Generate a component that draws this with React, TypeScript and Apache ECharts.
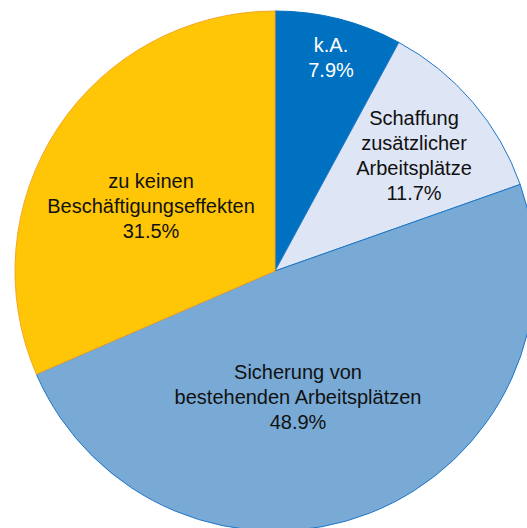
import React, { useEffect, useRef } from "react";
import * as echarts from "echarts";

const categories = [
  "k.A.",
  "Schaffung\nzusätzlicher\nArbeitsplätze",
  "Sicherung von\nbestehenden Arbeitsplätzen",
  "zu keinen\nBeschäftigungseffekten",
];
const values = [7.9, 11.7, 48.9, 31.5];
const colors = ["#0070C0", "#DEE5F4", "#78AAD5", "#FFC608"];
const borderColors = ["#0070C0", "#1F77C8", "#1F77C8", "#F5A623"];
const labelColors = ["#ffffff", "#111111", "#111111", "#111111"];
const labelPos = [
  [331, 57],
  [414, 155],
  [298, 397],
  [151, 206],
];

export default function App() {
  const ref = useRef<HTMLDivElement>(null);
  useEffect(() => {
    const chart = echarts.init(ref.current!, null, { renderer: "svg" });
    chart.setOption({
      animation: false,
      series: [
        {
          type: "pie",
          center: [275, 271],
          radius: 260,
          startAngle: 90,
          clockwise: true,
          data: categories.map((c, i) => ({
            name: c,
            value: values[i],
            itemStyle: { color: colors[i], borderColor: borderColors[i], borderWidth: 1 },
            label: { color: labelColors[i] },
          })),
          label: {
            show: true,
            position: "inside",
            formatter: (p: any) => `${p.name}\n${p.value.toFixed(1)}%`,
            fontFamily: "Liberation Sans, Arial, sans-serif",
            fontSize: 20,
            lineHeight: 25,
            align: "center",
          },
          labelLine: { show: false },
          labelLayout: (p: any) => ({
            x: labelPos[p.dataIndex][0],
            y: labelPos[p.dataIndex][1],
            align: "center",
            verticalAlign: "middle",
          }),
          emphasis: { disabled: true },
        },
      ],
    });
    return () => chart.dispose();
  }, []);
  return (
    <div
      ref={ref}
      style={{ position: "fixed", left: 0, top: 0, width: 527, height: 528, background: "#fff" }}
    />
  );
}
